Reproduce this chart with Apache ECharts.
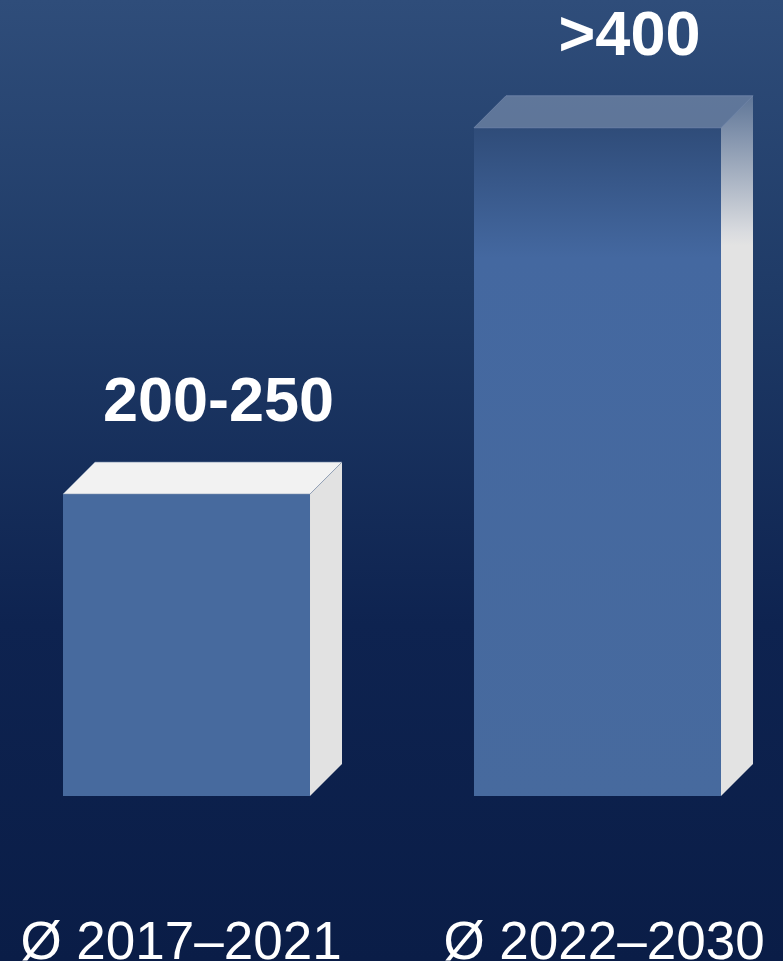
<!DOCTYPE html>
<html>
<head>
<meta charset="utf-8">
<style>
  html, body { margin: 0; padding: 0; width: 783px; height: 961px; overflow: hidden; }
  #chart { width: 783px; height: 961px; }
</style>
<script src="https://cdn.jsdelivr.net/npm/echarts@6/dist/echarts.min.js"></script>
</head>
<body>
<div id="chart"></div>
<script>
// Periods and average annual values (bar heights)
const categories = ['Ø 2017–2021', 'Ø 2022–2030'];
const values = [225, 498];
const valueLabels = ['200-250', '>400'];

const chart = echarts.init(document.getElementById('chart'));

const DEPTH = 32;        // 3D offset of the top and side faces
const LABEL_FONT = 'bold 63px "Liberation Sans", Arial, sans-serif';

// Face fills: first bar solid, second bar fading out towards its top
function faceStyles(idx, topY, baseY) {
  if (idx === 0) {
    return {
      front: '#476a9e',
      top: '#f2f2f2',
      side: '#e2e2e2'
    };
  }
  const h = baseY - topY;
  const f = Math.min(1, 130 / h);
  return {
    front: new echarts.graphic.LinearGradient(0, 0, 0, 1, [
      { offset: 0, color: '#2f4c79' },
      { offset: f, color: '#4468a0' },
      { offset: 1, color: '#476a9e' }
    ]),
    top: 'rgba(140,158,186,0.55)',
    side: new echarts.graphic.LinearGradient(0, 0, 0, 1, [
      { offset: 0, color: '#5f7698' },
      { offset: f, color: '#d9dbdf' },
      { offset: f * 1.1, color: '#e3e3e3' },
      { offset: 1, color: '#e3e3e3' }
    ])
  };
}

function renderBox(params, api) {
  const idx = params.dataIndex;
  const base = api.coord([api.value(0), 0]);
  const top = api.coord([api.value(0), api.value(1)]);
  const w = api.size([1, 0])[0] * 0.601;
  const x0 = base[0] - w / 2;
  const x1 = base[0] + w / 2;
  const yT = top[1];
  const yB = base[1];
  const s = faceStyles(idx, yT, yB);
  const edge = idx === 0 ? 'rgba(120,140,170,0.6)' : 'rgba(120,140,175,0.7)';
  return {
    type: 'group',
    children: [
      {
        type: 'polygon',
        shape: { points: [[x0, yT], [x1, yT], [x1, yB], [x0, yB]] },
        style: { fill: s.front }
      },
      {
        type: 'polygon',
        shape: { points: [[x1, yT], [x1 + DEPTH, yT - DEPTH], [x1 + DEPTH, yB - DEPTH], [x1, yB]] },
        style: { fill: s.side }
      },
      {
        type: 'polygon',
        shape: { points: [[x0, yT], [x0 + DEPTH, yT - DEPTH], [x1 + DEPTH, yT - DEPTH], [x1, yT]] },
        style: { fill: s.top, stroke: edge, lineWidth: 1 }
      },
      {
        type: 'text',
        style: {
          x: base[0] + DEPTH,
          y: yT - 90,
          text: valueLabels[idx],
          font: LABEL_FONT,
          fill: '#ffffff',
          align: 'center',
          verticalAlign: 'middle'
        }
      }
    ]
  };
}

chart.setOption({
  backgroundColor: new echarts.graphic.LinearGradient(0, 0, 0, 1, [
    { offset: 0, color: '#2f4d7a' },
    { offset: 0.3, color: '#1f3b67' },
    { offset: 0.65, color: '#0e2350' },
    { offset: 1, color: '#0a1d47' }
  ]),
  animation: false,
  grid: { left: -19, right: -20, top: 58, bottom: 165, outerBoundsMode: 'none', containLabel: false },
  xAxis: {
    type: 'category',
    data: categories,
    axisLine: { show: false },
    axisTick: { show: false },
    axisLabel: {
      margin: 118,
      verticalAlign: 'top',
      formatter: (v, i) => (i === 0 ? '{a|' + v + '}' : '{b|' + v + '}'),
      rich: {
        a: {
          color: '#ffffff', fontSize: 53, lineHeight: 60,
          fontFamily: '"Liberation Sans", Arial, sans-serif',
          padding: [0, 11, 0, 0]
        },
        b: {
          color: '#ffffff', fontSize: 53, lineHeight: 60,
          fontFamily: '"Liberation Sans", Arial, sans-serif',
          padding: [0, 0, 0, 13]
        }
      }
    }
  },
  yAxis: {
    type: 'value',
    min: 0,
    max: 550,
    show: false,
    splitLine: { show: false }
  },
  series: [{
    type: 'custom',
    renderItem: renderBox,
    data: values.map((v, i) => [i, v]),
    encode: { x: 0, y: 1 }
  }]
});
</script>
</body>
</html>
